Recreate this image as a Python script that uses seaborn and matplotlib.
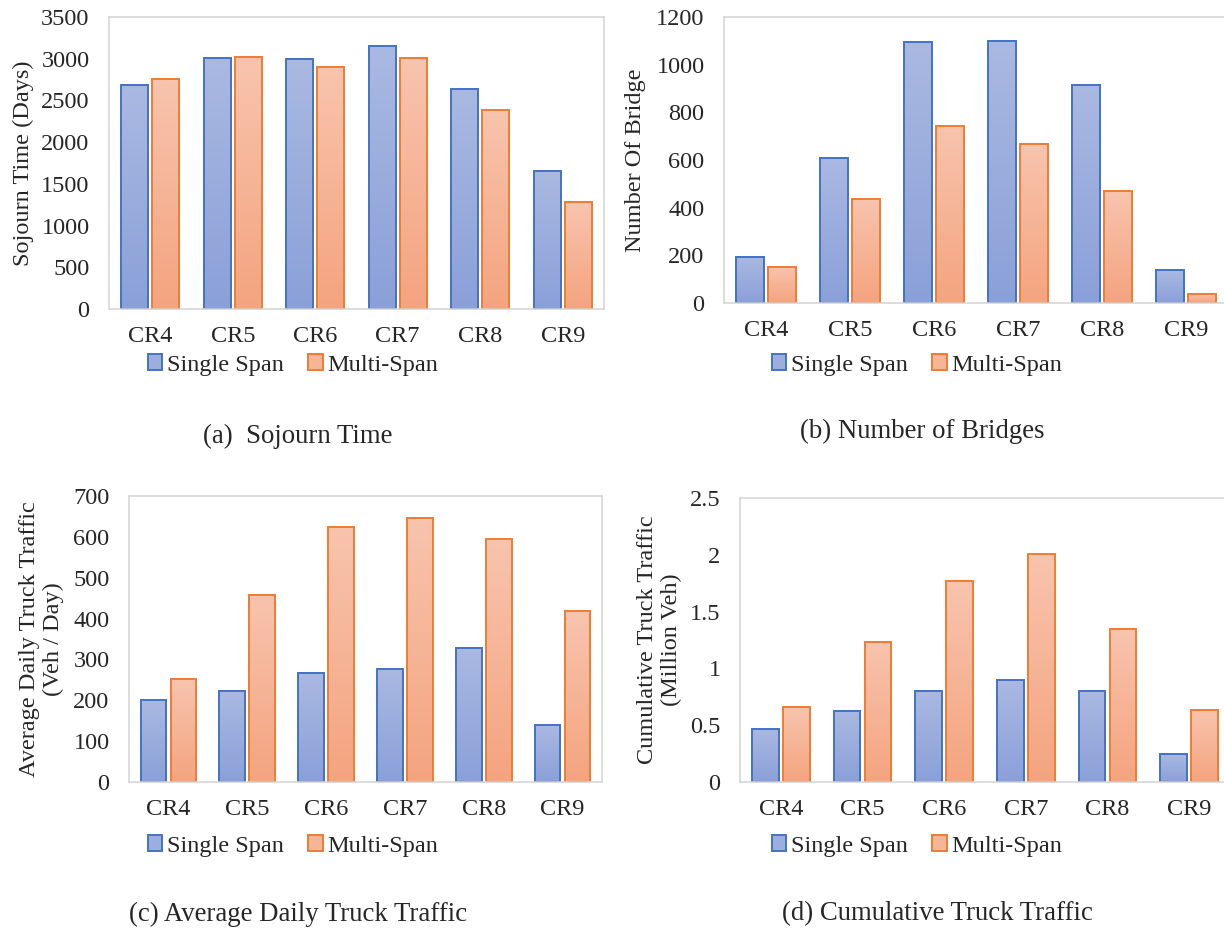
# plot.py

import numpy as np
import pandas as pd
import seaborn as sns
import matplotlib.pyplot as plt
from matplotlib.patches import Patch
from matplotlib.colors import LinearSegmentedColormap
from matplotlib.ticker import MultipleLocator, FuncFormatter

# data
regions = ['CR4', 'CR5', 'CR6', 'CR7', 'CR8', 'CR9']
series = ['Single Span', 'Multi-Span']

sojourn_single = [2680, 3010, 3000, 3150, 2640, 1655]
sojourn_multi = [2760, 3015, 2900, 3010, 2380, 1280]

bridges_single = [195, 610, 1095, 1100, 914, 138]
bridges_multi = [153, 437, 744, 667, 469, 39]

adtt_single = [200, 223, 268, 277, 328, 139]
adtt_multi = [251, 458, 624, 647, 594, 418]

cum_single = [0.47, 0.628, 0.805, 0.896, 0.805, 0.248]
cum_multi = [0.657, 1.235, 1.769, 2.005, 1.344, 0.637]

# colours (Excel style gradient fills)
edge_colors = {'Single Span': '#4472C4', 'Multi-Span': '#ED7D31'}
grad_colors = {'Single Span': ('#AAB9E1', '#8AA0D8'),
               'Multi-Span': ('#F8C4AE', '#F4A47F')}
legend_face = {'Single Span': '#9BAEDD', 'Multi-Span': '#F6B597'}

sns.set_style('white')
plt.rcParams['font.family'] = ['Liberation Serif', 'DejaVu Serif']
FS = 17.5
CAP_FS = 19.3

W, H = 1224, 930
fig = plt.figure(figsize=(W / 100, H / 100), dpi=100)


def px_rect(l, t, r, b):
    return [l / W, 1 - b / H, (r - l) / W, (b - t) / H]


def make_df(single, multi):
    rows = []
    for reg, s, m in zip(regions, single, multi):
        rows.append([reg, 'Single Span', s])
        rows.append([reg, 'Multi-Span', m])
    return pd.DataFrame(rows, columns=['Region', 'Type', 'Value'])


def gradient_bars(ax, container, top, bottom):
    cmap = LinearSegmentedColormap.from_list('g', [top, bottom])
    grad = np.linspace(0, 1, 256).reshape(-1, 1)
    for bar in container:
        x0, y0 = bar.get_x(), bar.get_y()
        w, h = bar.get_width(), bar.get_height()
        ax.imshow(grad, cmap=cmap, extent=(x0, x0 + w, y0, y0 + h),
                  origin='upper', aspect='auto', zorder=bar.get_zorder() - 0.1)
        bar.set_facecolor('none')


def panel(rect, single, multi, ymax, ystep, ylabel, label_x, fmt=None):
    ax = fig.add_axes(px_rect(*rect))
    df = make_df(single, multi)
    sns.barplot(data=df, x='Region', y='Value', hue='Type', hue_order=series,
                order=regions, width=0.76, gap=0.14, linewidth=1.4,
                edgecolor='k', legend=False, ax=ax)
    for cont, name in zip(ax.containers, series):
        for bar in cont:
            bar.set_edgecolor(edge_colors[name])
        gradient_bars(ax, cont, *grad_colors[name])
    ax.set_xlim(-0.5, len(regions) - 0.5)
    ax.set_ylim(0, ymax)
    ax.yaxis.set_major_locator(MultipleLocator(ystep))
    if fmt:
        ax.yaxis.set_major_formatter(FuncFormatter(fmt))
    ax.set_xlabel('')
    ax.set_ylabel(ylabel, fontsize=FS, linespacing=1.15)
    left = rect[0]
    width = rect[2] - rect[0]
    ax.yaxis.set_label_coords((label_x - left) / width, 0.5)
    ax.tick_params(axis='both', length=0, labelsize=FS)
    ax.tick_params(axis='y', pad=14)
    ax.tick_params(axis='x', pad=12)
    for sp in ax.spines.values():
        sp.set_visible(True)
        sp.set_color('#D3D3D3')
        sp.set_linewidth(1.1)
    return ax


def add_legend(cx, cy):
    handles = [Patch(facecolor=legend_face[n], edgecolor=edge_colors[n],
                     linewidth=1.4, label=n) for n in series]
    fig.legend(handles=handles, loc='center', ncol=2, frameon=False,
               bbox_to_anchor=(cx / W, 1 - cy / H), fontsize=FS,
               handlelength=0.6, handleheight=0.6, handletextpad=0.2,
               columnspacing=1.0, borderpad=0)


panel((109, 17, 604, 309), sojourn_single, sojourn_multi, 3500, 500,
      'Sojourn Time (Days)', 34)
panel((724, 17, 1228, 303), bridges_single, bridges_multi, 1200, 200,
      'Number Of Bridge', 646)
panel((129, 496, 602, 782), adtt_single, adtt_multi, 700, 100,
      'Average Daily Truck Traffic\n(Veh / Day)', 64)
panel((740, 498, 1230, 782), cum_single, cum_multi, 2.5, 0.5,
      'Cumulative Truck Traffic\n(Million Veh)', 682, fmt=lambda v, p: '%g' % v)

add_legend(293, 365)
add_legend(917, 365)
add_legend(293, 846)
add_legend(917, 846)

captions = [(298, 436, '(a)  Sojourn Time'),
            (922, 431, '(b) Number of Bridges'),
            (298, 914, '(c) Average Daily Truck Traffic'),
            (937, 914, '(d) Cumulative Truck Traffic')]
for cx, cy, txt in captions:
    fig.text(cx / W, 1 - cy / H, txt, ha='center', va='center', fontsize=CAP_FS)

fig.savefig('out.png', dpi=100)
